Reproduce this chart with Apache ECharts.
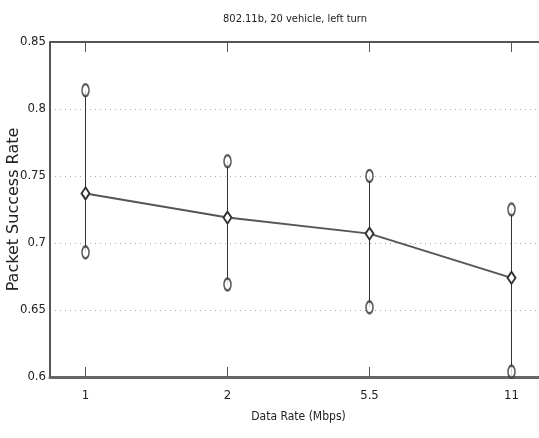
<!DOCTYPE html>
<html>
<head>
<meta charset="utf-8">
<script src="https://cdn.jsdelivr.net/npm/echarts@6/dist/echarts.min.js"></script>
<style>html,body{margin:0;padding:0;background:#fff;}#c{width:539px;height:438px;}</style>
</head>
<body>
<div id="c"></div>
<script>
var xLabels = ['1', '2', '5.5', '11'];
var xPositions = [1, 2, 3, 4];
var meanRate = [0.737, 0.719, 0.707, 0.674];
var upperRate = [0.814, 0.761, 0.750, 0.725];
var lowerRate = [0.693, 0.669, 0.652, 0.604];
var yTicks = [0.6, 0.65, 0.7, 0.75, 0.8, 0.85];

var FONT = "'Liberation Sans Narrow', 'DejaVu Sans Condensed', sans-serif";
var chart = echarts.init(document.getElementById('c'), null, {renderer: 'canvas'});

function pairs(vals) { return xPositions.map(function (x, i) { return [x, vals[i]]; }); }
var errData = xPositions.map(function (x, i) { return [x, lowerRate[i], upperRate[i]]; });

var labelMap = {};
xPositions.forEach(function (p, i) { labelMap[p] = xLabels[i]; });

var axisCommon = {
  type: 'value', min: 0.75, max: 4.25,
  axisLine: {show: true, onZero: false, lineStyle: {color: '#555', width: 2}},
  axisTick: {show: true, inside: true, length: 10, customValues: xPositions, lineStyle: {color: '#555', width: 1}},
  splitLine: {show: false}
};

chart.setOption({
  animation: false,
  backgroundColor: '#fff',
  title: {
    text: '802.11b, 20 vehicle, left turn',
    left: 290, top: 9, textAlign: 'center',
    textStyle: {fontFamily: FONT, fontSize: 11, fontWeight: 'normal', color: '#222'}
  },
  grid: {left: 50, right: -8, top: 42, bottom: 61, containLabel: false, outerBoundsMode: 'none'},
  xAxis: [
    Object.assign({}, axisCommon, {
      position: 'bottom',
      name: 'Data Rate (Mbps)', nameLocation: 'middle', nameGap: 34, nameMoveOverlap: false,
      nameTextStyle: {fontFamily: FONT, fontSize: 12, color: '#222'},
      axisLine: {show: true, onZero: false, lineStyle: {color: '#666', width: 3}},
      axisLabel: {
        show: true, margin: 12, customValues: xPositions,
        fontFamily: FONT, fontSize: 13, color: '#222',
        formatter: function (v) { return labelMap[v] || ''; }
      }
    }),
    Object.assign({}, axisCommon, {
      position: 'top',
      axisLabel: {show: false}
    })
  ],
  yAxis: {
    type: 'value', min: 0.6, max: 0.85, interval: 0.05,
    name: 'Packet Success Rate', nameLocation: 'middle', nameGap: 28, nameRotate: 90, nameMoveOverlap: false,
    nameTextStyle: {fontFamily: "'DejaVu Sans', sans-serif", fontSize: 16, color: '#222'},
    axisLine: {show: true, lineStyle: {color: '#555', width: 2}},
    axisTick: {show: false},
    axisLabel: {
      margin: 4, fontFamily: FONT, fontSize: 13, color: '#222',
      formatter: function (v) { return String(+v.toFixed(2)); }
    },
    splitLine: {show: true, lineStyle: {color: '#aaa', width: 1, type: [1, 4]}}
  },
  series: [
    {
      type: 'custom',
      xAxisIndex: 0,
      data: errData,
      renderItem: function (params, api) {
        var a = api.coord([api.value(0), api.value(1)]);
        var b = api.coord([api.value(0), api.value(2)]);
        return {
          type: 'line',
          shape: {x1: a[0], y1: a[1], x2: b[0], y2: b[1]},
          style: {stroke: '#333', lineWidth: 1}
        };
      },
      z: 2
    },
    {
      type: 'line',
      data: pairs(meanRate),
      symbol: 'emptyDiamond', symbolSize: [8, 12],
      lineStyle: {color: '#555', width: 2},
      itemStyle: {color: '#333', borderColor: '#333', borderWidth: 1},
      z: 3
    },
    {
      type: 'scatter',
      data: pairs(upperRate),
      symbol: 'emptyCircle', symbolSize: [7, 12],
      itemStyle: {color: '#333', borderColor: '#333', borderWidth: 1},
      z: 4
    },
    {
      type: 'scatter',
      data: pairs(lowerRate),
      symbol: 'emptyCircle', symbolSize: [7, 12],
      itemStyle: {color: '#333', borderColor: '#333', borderWidth: 1},
      z: 4
    }
  ]
});
</script>
</body>
</html>
